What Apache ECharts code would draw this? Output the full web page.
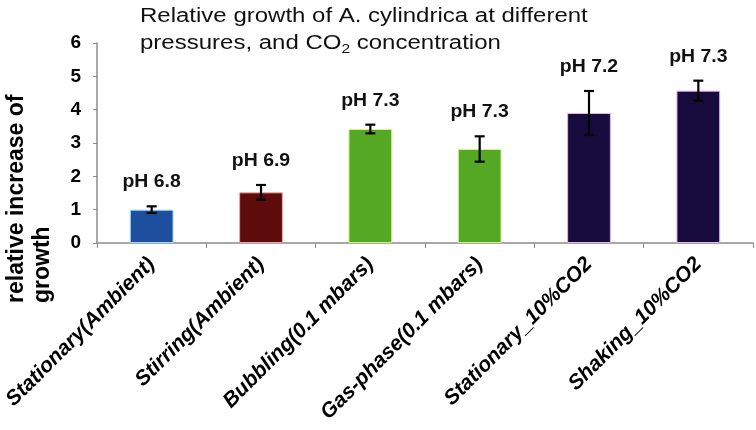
<!DOCTYPE html>
<html><head><meta charset="utf-8">
<script src="https://cdn.jsdelivr.net/npm/echarts@6/dist/echarts.min.js"></script>
<style>html,body{margin:0;padding:0;background:#fff}#c{width:756px;height:430px}</style>
</head><body><div id="c"></div>
<script>
const categories = ['Stationary(Ambient)', 'Stirring(Ambient)', 'Bubbling(0.1 mbars)', 'Gas-phase(0.1 mbars)', 'Stationary_10%CO2', 'Shaking_10%CO2'];
const growth = [1.0, 1.52, 3.42, 2.82, 3.9, 4.57];
const errors = [0.1, 0.22, 0.13, 0.38, 0.66, 0.3];
const phLabels = ['pH 6.8', 'pH 6.9', 'pH 7.3', 'pH 7.3', 'pH 7.2', 'pH 7.3'];
const barColors = ['#1d4f9e', '#5e0b0b', '#55a824', '#55a824', '#170a3d', '#170a3d'];
const barBorders = ['#9fdcf5', '#f3a5a5', '#d6f38a', '#d6f38a', '#e4b0f0', '#e4b0f0'];
const titleText = 'Relative growth of A. cylindrica at different\npressures, and CO{sub|2} concentration';
const yName = 'relative increase of\ngrowth';

const FONT = '"Liberation Sans", Arial, Helvetica, sans-serif';
const chart = echarts.init(document.getElementById('c'));
chart.setOption({
  backgroundColor: '#fff',
  animation: false,
  grid: { left: 97, right: 3, top: 43, bottom: 187, containLabel: false },
  xAxis: {
    type: 'category', data: categories,
    axisLine: { lineStyle: { color: '#8c8c8c', width: 1.5 } },
    axisTick: { show: true, length: 5, lineStyle: { color: '#8c8c8c' } },
    axisLabel: { interval: 0, rotate: 45, margin: 18, fontFamily: FONT, fontSize: 21, fontWeight: 'bold', fontStyle: 'italic', color: '#000' }
  },
  yAxis: {
    type: 'value', min: 0, max: 6, interval: 1,
    splitLine: { show: false },
    axisLine: { show: true, lineStyle: { color: '#8c8c8c', width: 1.5 } },
    axisTick: { show: true, length: 4, lineStyle: { color: '#8c8c8c' } },
    axisLabel: { margin: 16, fontFamily: FONT, fontSize: 19, fontWeight: 'bold', color: '#000' }
  },
  graphic: [{
    type: 'text', x: 30, y: 303, rotation: Math.PI / 2,
    style: { text: yName, fontFamily: FONT, fontSize: 23, fontWeight: 'bold', fill: '#000', lineHeight: 26, textAlign: 'left', textVerticalAlign: 'middle' }
  }, {
    type: 'text', x: 140, y: 3, scaleX: 1.2,
    style: {
      text: titleText, fontFamily: FONT, fontSize: 20, fill: '#111', lineHeight: 27, textAlign: 'left', textVerticalAlign: 'top',
      rich: { sub: { fontFamily: FONT, fontSize: 13, fill: '#111', lineHeight: 27, padding: [12, 0, 0, 0] } }
    }
  }],
  series: [{
    type: 'bar', barWidth: '40%',
    data: growth.map((v, i) => ({ value: v, itemStyle: { color: barColors[i], borderColor: barBorders[i], borderWidth: 1 } }))
  }, {
    type: 'custom', z: 5,
    data: categories.map((c, i) => [i, growth[i], errors[i]]),
    encode: { x: 0, y: 1 },
    renderItem: function (params, api) {
      const i = api.value(0), v = api.value(1), e = api.value(2);
      const hi = api.coord([i, v + e]);
      const lo = api.coord([i, v - e]);
      const x = hi[0], cap = 5;
      const st = { stroke: '#000', lineWidth: 2.2 };
      return { type: 'group', children: [
        { type: 'line', shape: { x1: x, y1: hi[1], x2: x, y2: lo[1] }, style: st },
        { type: 'line', shape: { x1: x - cap, y1: hi[1], x2: x + cap, y2: hi[1] }, style: st },
        { type: 'line', shape: { x1: x - cap, y1: lo[1], x2: x + cap, y2: lo[1] }, style: st },
        { type: 'text', x: x, y: hi[1] - 24, scaleX: 1.08, style: { text: phLabels[params.dataIndex], fontFamily: FONT, fontSize: 18, fontWeight: 'bold', fill: '#111', textAlign: 'center', textVerticalAlign: 'middle' } }
      ] };
    }
  }]
});
</script></body></html>
